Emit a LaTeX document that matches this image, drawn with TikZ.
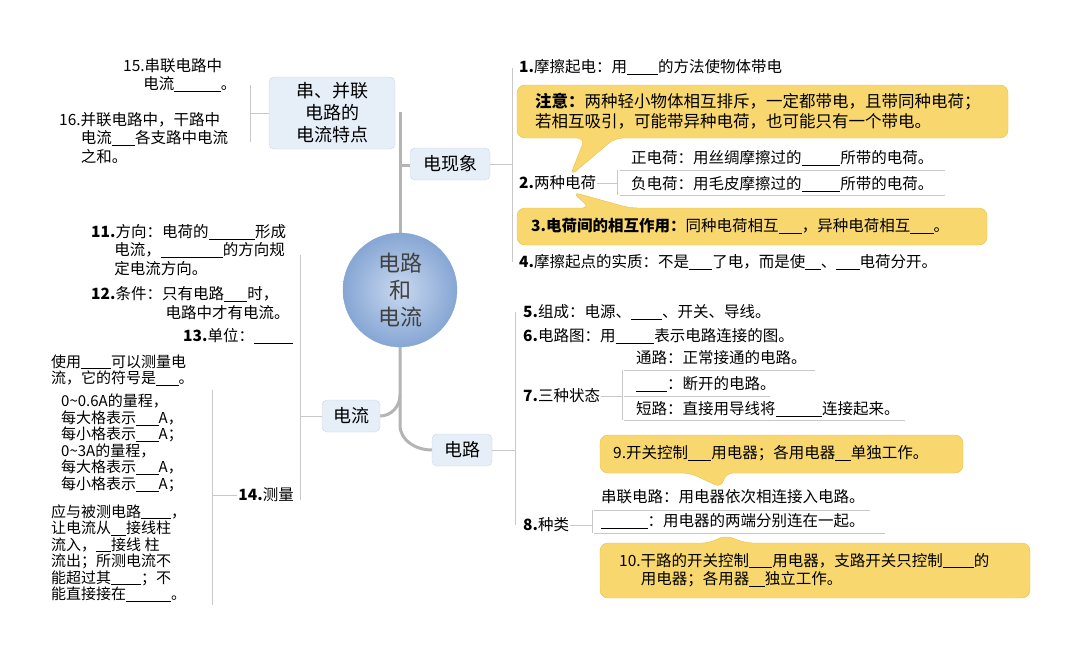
\documentclass[tikz,border=0pt]{standalone}
\usepackage{fontspec}
\setmainfont{Noto Sans CJK SC}
\definecolor{ln}{HTML}{C8C8C8}
\definecolor{trunk}{HTML}{B4B4B4}
\definecolor{yel}{HTML}{F8D86E}
\definecolor{yeld}{HTML}{E6C04E}
\definecolor{bx}{HTML}{E6EEF8}
\definecolor{bxd}{HTML}{C9D6E8}
\definecolor{cin}{HTML}{C9D9EF}
\definecolor{cout}{HTML}{86A6D4}
\newcommand\blank[1]{\underline{\hspace{#1em}}}
\tikzset{
 t/.style={anchor=west,align=left,font=\fontsize{15.5}{18.5}\selectfont,inner sep=1pt},
 tc/.style={t,font=\fontsize{15}{16.5}\selectfont},
 tr/.style={t,anchor=east,align=left},
 br/.style={draw=ln,line width=0.8pt},
 tk/.style={draw=trunk,line width=3pt},
 topic/.style={draw=bxd,fill=bx,rounded corners=5pt,font=\fontsize{18}{22}\selectfont,align=center,inner sep=4pt},
 yl/.style={fill=yel,draw=yeld,rounded corners=8pt},
}
\begin{document}
\begin{tikzpicture}[x=1pt,y=-1pt]
\useasboundingbox (0,0) rectangle (1080,664);
% trunk
\draw[tk] (400,112) -- (400,330);
\draw[tk] (400,330) -- (400,425) to[out=-90,in=180] (432,450);
\draw[tk] (400,395) to[out=-90,in=0] (380,416);
\draw[tk] (400,165) -- (410,165);
% center
\node[circle,minimum size=114pt,shading=radial,inner color=cin,outer color=cout,draw=cout,font=\fontsize{22}{27}\selectfont,align=center,text=black!75] (c) at (400,290) {电路\\和\\电流};
% topic boxes
\node[topic,minimum width=126pt,minimum height=72pt] (sb) at (332,113) {串、并联\\电路的\\电流特点};
\node[topic,minimum width=80pt,minimum height=32pt] (dx) at (450,164) {电现象};
\node[topic,minimum width=58pt,minimum height=32pt] (dl) at (351,416) {电流};
\node[topic,minimum width=60pt,minimum height=32pt] (lu) at (462,450) {电路};
% 串并联
\draw[br] (sb.west) -- (250,113) (250,85) -- (250,142);
\node[t] (n15) at (122,75) {15.串联电路中\\\hspace{1.3em}电流\blank{3}。};
\node[t] (n16) at (58,138) {16.并联电路中，干路中\\\hspace{1.4em}电流\blank{1.5}各支路中电流\\\hspace{1.4em}之和。};
% 电流 branch
\draw[br] (dl.west) -- (300,416) (300,255) -- (300,500);
\node[t] (n11) at (90,250) {\textbf{11.}方向：电荷的\blank{3}形成\\\hspace{1.5em}电流，\blank{4}的方向规\\\hspace{1.5em}定电流方向。};
\node[t] (n12) at (90,303) {\textbf{12.}条件：只有电路\blank{1.5}时，\\\hspace{4.8em}电路中才有电流。};
\node[tr] (n13) at (294,336) {\textbf{13.}单位：\blank{2.5}};
\node[tr] (n14) at (295,495) {\textbf{14.}测量};
\draw[br] (n14.west) -- (212,495) (212,390) -- (212,605);
\node[tc] (m1) at (50,370) {使用\blank{2}可以测量电\\流，它的符号是\blank{1.5}。};
\node[tc] (m2) at (60,443) {0\~{}0.6A的量程，\\每大格表示\blank{1.5}A，\\每小格表示\blank{1.5}A；\\0\~{}3A的量程，\\每大格表示\blank{1.5}A，\\每小格表示\blank{1.5}A；};
\node[tc] (m3) at (50,553) {应与被测电路\blank{2}，\\让电流从\blank{1}接线柱\\流入，\blank{1}接线\ 柱\\流出；所测电流不\\能超过其\blank{2}；不\\能直接接在\blank{3}。};
% 电现象 branch
\draw[br] (dx.east) -- (512,164) (512,68) -- (512,262);
\node[t] (n1) at (518,67) {\textbf{1.}摩擦起电：用\blank{2}的方法使物体带电};
\draw[yl] (517,85) -- (1008,85) -- (1008,138) -- (615,138) -- (570,176) -- (585,138) -- (517,138) -- cycle;
\node[t,font=\fontsize{16.5}{20}\selectfont] (note) at (534,111) {\textbf{注意：}两种轻小物体相互排斥，一定都带电，且带同种电荷；\\若相互吸引，可能带异种电荷，也可能只有一个带电。};
\node[t] (n2) at (518,183) {\textbf{2.}两种电荷};
\draw[br] (n2.east) -- (617,183) (617,170) -- (617,195);
\draw[br] (620,170) -- (945,170) (620,195) -- (945,195);
\node[t] (z1) at (630,158) {正电荷：用丝绸摩擦过的\blank{2.5}所带的电荷。};
\node[t] (z2) at (630,184) {负电荷：用毛皮摩擦过的\blank{2.5}所带的电荷。};
\draw[yl] (517,208) -- (590,208) -- (572,192) -- (630,208) -- (987,208) -- (987,245) -- (517,245) -- cycle;
\node[t] (n3) at (530,226) {\textbf{3.电荷间的相互作用：}同种电荷相互\blank{1.5}，异种电荷相互\blank{1.5}。};
\node[t] (n4) at (518,262) {\textbf{4.}摩擦起点的实质：不是\blank{1.5}了电，而是使\blank{1}、\blank{1.5}电荷分开。};
% 电路 branch
\draw[br] (lu.east) -- (515,450) (515,312) -- (515,525);
\node[t] (n5) at (522,312) {\textbf{5.}组成：电源、\blank{2}、开关、导线。};
\node[t] (n6) at (522,336) {\textbf{6.}电路图：用\blank{2.5}表示电路连接的图。};
\node[t] (n7) at (522,396) {\textbf{7.}三种状态};
\draw[br] (n7.east) -- (622,396) (622,370) -- (622,420);
\draw[br] (624,370) -- (815,370) (624,396) -- (770,396) (624,420) -- (905,420);
\node[t] (s1) at (635,358) {通路：正常接通的电路。};
\node[t] (s2) at (635,384) {\blank{2}：断开的电路。};
\node[t] (s3) at (635,409) {短路：直接用导线将\blank{3}连接起来。};
\draw[yl] (600,435) -- (963,435) -- (963,473) -- (725,473) -- (722,488) -- (690,473) -- (600,473) -- cycle;
\node[t] (n9) at (612,453) {9.开关控制\blank{1.5}用电器；各用电器\blank{1}单独工作。};
\node[t] (n8) at (522,525) {\textbf{8.}种类};
\draw[br] (n8.east) -- (592,525) (592,510) -- (592,533);
\draw[br] (594,510) -- (870,510) (594,533) -- (885,533);
\node[t] (k1) at (600,497) {串联电路：用电器依次相连接入电路。};
\node[t] (k2) at (600,521) {\blank{3}：用电器的两端分别连在一起。};
\draw[yl] (600,543) -- (710,543) -- (725,535) -- (745,543) -- (1030,543) -- (1030,598) -- (600,598) -- cycle;
\node[t] (n10) at (618,570) {10.干路的开关控制\blank{1.5}用电器，支路开关只控制\blank{2}的\\\hspace{1.4em}用电器；各用器\blank{1}独立工作。};
\end{tikzpicture}
\end{document}
